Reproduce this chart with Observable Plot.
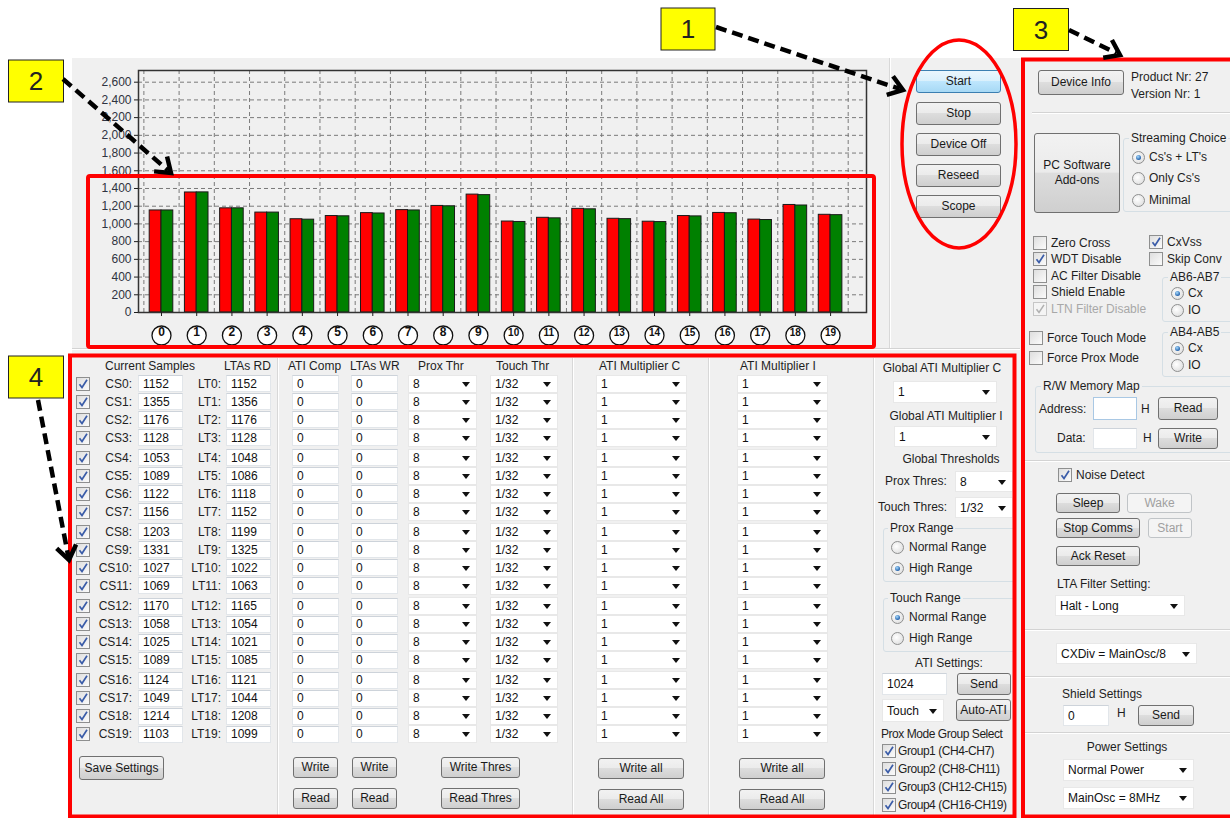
<!DOCTYPE html>
<html><head><meta charset="utf-8">
<script src="https://cdn.jsdelivr.net/npm/d3@7"></script>
<script src="https://cdn.jsdelivr.net/npm/@observablehq/plot@0.6"></script>
<style>
html,body{margin:0;padding:0;background:#fff;}
body{width:1230px;height:818px;position:relative;overflow:hidden;font-family:"Liberation Sans",Arial,sans-serif;font-size:12px;color:#1e1e1e;}
#win{position:absolute;left:72px;top:58px;width:1158px;height:760px;background:#f0f0f0;}
#chart{position:absolute;left:72px;top:58px;}
.a{position:absolute;box-sizing:border-box;}
.t{position:absolute;white-space:nowrap;line-height:16px;height:16px;}
.btn{border:1px solid #707070;border-radius:3px;background:linear-gradient(#f2f2f2 0%,#ebebeb 49%,#dddddd 50%,#cfcfcf 100%);display:flex;align-items:center;justify-content:center;text-align:center;color:#1a1a1a;line-height:15px;}
.btn.focus{border-color:#3c7fb1;background:linear-gradient(#eaf6fd 0%,#d9f0fc 49%,#bee6fd 50%,#a7d9f5 100%);}
.btn.dis{border-color:#c0c4c7;background:#f4f4f4;color:#a0a0a0;}
.inp{background:#fff;border:1px solid #e2e6ea;border-top-color:#cdd3da;padding-left:4px;display:flex;align-items:center;color:#111;}
.inp.focus{border-color:#a9c8e4;}
.cmb{background:#fff;border:1px solid #e8e8e8;padding-left:4px;display:flex;align-items:center;color:#111;}
.cmb:after{content:"";position:absolute;right:6px;top:50%;margin-top:-2px;border-left:4px solid transparent;border-right:4px solid transparent;border-top:5px solid #111;}
.cb{width:14px;height:14px;border:1px solid #8e8f8f;background:linear-gradient(135deg,#dedede,#fbfbfb);}
.cb svg{position:absolute;left:0;top:0;}
.cb.dis{border-color:#c6c6c6;background:#f4f4f4;}
.rd{width:13px;height:13px;border-radius:50%;border:1px solid #8e8f8f;background:radial-gradient(circle at 40% 40%,#ffffff,#d8d8d8);}
.rd.on:after{content:"";position:absolute;left:3px;top:3px;width:5px;height:5px;border-radius:50%;background:radial-gradient(circle at 40% 35%,#a8dcff,#1b5aa6 75%);}
.grp{border:1px solid #d5dfe5;border-radius:3px;}
.hl{height:2px;border-top:1px solid #d3d3d3;border-bottom:1px solid #ffffff;}
.vl{width:2px;border-left:1px solid #d8d8d8;border-right:1px solid #ffffff;}
.tb{background:#f0f0f0;padding:0 2px;}
.tight{letter-spacing:-0.45px;}
#ov{position:absolute;left:0;top:0;z-index:10;}
</style>
</head><body>
<div id="win"></div>
<div id="chart"></div>
<div id="ui"></div>
<script>
// ---------- data ----------
const channels = [0,1,2,3,4,5,6,7,8,9,10,11,12,13,14,15,16,17,18,19];
const cs = [1152,1355,1176,1128,1053,1089,1122,1156,1203,1331,1027,1069,1170,1058,1025,1089,1124,1049,1214,1103];
const lt = [1152,1356,1176,1128,1048,1086,1118,1152,1199,1325,1022,1063,1165,1054,1021,1085,1121,1044,1208,1099];
const yTicks = [0,200,400,600,800,1000,1200,1400,1600,1800,2000,2200,2400,2600];
const atiCompVal = "0", ltasWrVal = "0", proxThrVal = "8", touchThrVal = "1/32", atiMultVal = "1";

// ---------- chart ----------
const data = channels.map(i => ({ch: i, cs: cs[i], lt: lt[i]}));
const bounds = channels.map(i => i - 0.5).concat([channels.length - 0.5]);
const chart = Plot.plot({
  width: 818, height: 290,
  marginLeft: 66, marginTop: 12, marginRight: 24, marginBottom: 36,
  style: {background: "transparent", fontFamily: "Liberation Sans, Arial, sans-serif", fontSize: "12px"},
  x: {type: "linear", domain: [-0.653, 20.02]},
  y: {domain: [0, 2732]},
  marks: [
    Plot.gridY(yTicks.filter(v => v > 0), {stroke: "#7a7a7a", strokeOpacity: 1, strokeDasharray: "4,3"}),
    Plot.gridX(bounds, {stroke: "#7a7a7a", strokeOpacity: 1, strokeDasharray: "4,3"}),
    Plot.rectY(data, {x1: d => d.ch - 0.335, x2: d => d.ch, y: "cs", fill: "#ff0000", stroke: "#1a1a1a", strokeWidth: 1}),
    Plot.rectY(data, {x1: d => d.ch, x2: d => d.ch + 0.335, y: "lt", fill: "#008000", stroke: "#1a1a1a", strokeWidth: 1}),
    Plot.frame({stroke: "#333", strokeWidth: 1.5}),
    Plot.axisY({ticks: yTicks, tickSize: 4, tickPadding: 3, tickFormat: d3.format(","), label: null, fill: "#2f3340", fontSize: 12}),
    Plot.axisX({ticks: channels, tickSize: 4, tickFormat: () => "", label: null}),
    Plot.dot(channels, {x: d => d, frameAnchor: "bottom", dy: 23, r: 9.5, fill: "white", stroke: "#111", strokeWidth: 1.3}),
    Plot.text(channels, {x: d => d, frameAnchor: "bottom", dy: 23, text: d => String(d), fontWeight: "bold", fontSize: d => d < 10 ? 12 : 10, fill: "#111"})
  ]
});
document.getElementById("chart").appendChild(chart);

// ---------- GUI helpers ----------
const ui = document.getElementById("ui");
function add(cls, x, y, w, h, html, parent) {
  const d = document.createElement("div");
  d.className = "a " + cls;
  Object.assign(d.style, {left: x + "px", top: y + "px", width: w + "px", height: h + "px"});
  if (html != null) d.innerHTML = html;
  (parent || ui).appendChild(d);
  return d;
}
function txt(x, yc, s, align, parent, extra) {
  const d = document.createElement("div");
  d.className = "t" + (extra ? " " + extra : "");
  d.textContent = s;
  d.style.top = (yc - 8) + "px";
  if (align === "right") { d.style.left = (x - 400) + "px"; d.style.width = "400px"; d.style.textAlign = "right"; }
  else if (align === "center") { d.style.left = (x - 200) + "px"; d.style.width = "400px"; d.style.textAlign = "center"; }
  else d.style.left = x + "px";
  (parent || ui).appendChild(d);
  return d;
}
const CHECK = '<svg width="12" height="12"><path d="M2.5 6.2 L5 9.5 L10 1.8" fill="none" stroke="#3a5ca8" stroke-width="1.7"/></svg>';
const CHECKD = '<svg width="12" height="12"><path d="M2.5 6.2 L5 9.5 L10 1.8" fill="none" stroke="#b0b0b0" stroke-width="1.5"/></svg>';
function cbox(x, yc, on, label, lx, dis, parent, extra) {
  add("cb" + (dis ? " dis" : ""), x, yc - 7, 14, 14, on ? (dis ? CHECKD : CHECK) : "", parent);
  if (label) { const t = txt(lx, yc, label, "left", parent, extra); if (dis) t.style.color = "#a8a8a8"; }
}
function radio(cx, cy, on, label, lx, parent) {
  add("rd" + (on ? " on" : ""), cx - 6.5, cy - 6.5, 13, 13, "", parent);
  txt(lx, cy, label, "left", parent);
}
function btn(x, y, w, h, label, cls, parent) { return add("btn " + (cls || ""), x, y, w, h, label, parent); }
function inp(x, y, w, h, v, cls, parent) { return add("inp " + (cls || ""), x, y, w, h, v, parent); }
function cmb(x, y, w, h, v, parent) { return add("cmb", x, y, w, h, v, parent); }
function hl(x, y, w, parent) { add("hl", x, y, w, 2, "", parent); }
function vl(x, y, h, parent) { add("vl", x, y, 2, h, "", parent); }
function grp(x, y, w, h, title, tx, parent) { add("grp", x, y, w, h, "", parent); txt(tx, y, title, "left", parent, "tb"); }

// ---------- panel separators ----------
vl(889, 58, 290);
hl(72, 348, 948);
vl(277, 358, 460);
vl(572, 358, 460);
vl(708, 358, 460);
vl(873, 358, 460);

// ---------- group 1 buttons ----------
btn(916, 70, 85, 23, "Start", "focus");
btn(916, 102, 85, 23, "Stop");
btn(916, 133, 85, 23, "Device Off");
btn(916, 164, 85, 23, "Reseed");
btn(916, 195, 85, 23, "Scope");

// ---------- group 4 table ----------
const headers = [["Current Samples", 105], ["LTAs RD", 224], ["ATI Comp", 288], ["LTAs WR", 350], ["Prox Thr", 418], ["Touch Thr", 496], ["ATI Multiplier C", 599], ["ATI Multiplier I", 740]];
headers.forEach(([s, x]) => txt(x, 366, s));
channels.forEach(i => {
  const y = 383.5 + Math.floor(i / 4) * 74.2 + (i % 4) * 18;
  cbox(76, y, true);
  txt(132, y, "CS" + i + ":", "right");
  inp(138, y - 8.5, 45, 17, cs[i]);
  txt(221, y, "LT" + i + ":", "right");
  inp(226, y - 8.5, 45, 17, lt[i]);
  inp(292, y - 8.5, 47, 17, atiCompVal);
  inp(351, y - 8.5, 47, 17, ltasWrVal);
  cmb(408, y - 9, 69, 18, proxThrVal);
  cmb(490, y - 9, 68, 18, touchThrVal);
  cmb(596, y - 9, 91, 18, atiMultVal);
  cmb(737, y - 9, 91, 18, atiMultVal);
});
btn(79, 756, 85, 24, "Save Settings");
btn(293, 757, 45, 21, "Write");
btn(293, 788, 45, 21, "Read");
btn(352, 757, 45, 21, "Write");
btn(352, 788, 45, 21, "Read");
btn(441, 757, 79, 21, "Write Thres");
btn(441, 788, 79, 21, "Read Thres");
btn(598, 758, 86, 21, "Write all");
btn(598, 789, 86, 21, "Read All");
btn(739, 758, 86, 21, "Write all");
btn(739, 789, 86, 21, "Read All");

// global column (clipped at the panel edge)
const gc = document.createElement("div");
Object.assign(gc.style, {position: "absolute", left: "0px", top: "0px", width: "1013px", height: "818px", overflow: "hidden"});
ui.appendChild(gc);
txt(942, 368, "Global ATI Multiplier C", "center", gc);
cmb(893, 381, 104, 22, atiMultVal, gc);
txt(946, 416, "Global ATI Multiplier I", "center", gc);
cmb(894, 426, 103, 21, atiMultVal, gc);
txt(951, 459, "Global Thresholds", "center", gc);
txt(885, 481, "Prox Thres:", "left", gc);
cmb(955, 471, 58, 21, proxThrVal, gc);
txt(878, 507, "Touch Thres:", "left", gc);
cmb(955, 497, 58, 21, touchThrVal, gc);
grp(883, 528, 140, 54, "Prox Range", 888, gc);
radio(897, 547, false, "Normal Range", 909, gc);
radio(897, 568, true, "High Range", 909, gc);
grp(883, 598, 140, 54, "Touch Range", 888, gc);
radio(897, 617, true, "Normal Range", 909, gc);
radio(897, 638, false, "High Range", 909, gc);
txt(949, 663, "ATI Settings:", "center", gc);
inp(882, 673, 65, 22, "1024", "", gc);
btn(957, 673, 54, 22, "Send", "", gc);
cmb(882, 699, 62, 23, "Touch", gc);
btn(956, 699, 55, 22, "Auto-ATI", "", gc);
txt(881, 734, "Prox Mode Group Select", "left", gc, "tight");
[["Group1 (CH4-CH7)", 751], ["Group2 (CH8-CH11)", 769], ["Group3 (CH12-CH15)", 787], ["Group4 (CH16-CH19)", 805]].forEach(([s, y]) => cbox(882, y, true, s, 898, false, gc, "tight"));

// ---------- group 3 right panel ----------
btn(1038, 70, 86, 25, "Device Info");
txt(1131, 77, "Product Nr: 27");
txt(1131, 94, "Version Nr: 1");
hl(1032, 112, 200);
btn(1034, 133, 86, 80, "PC Software<br>Add-ons");
grp(1123, 138, 120, 74, "Streaming Choice", 1129);
radio(1138, 157, true, "Cs's + LT's", 1149);
radio(1138, 178, false, "Only Cs's", 1149);
radio(1138, 200, false, "Minimal", 1149);
cbox(1033, 243, false, "Zero Cross", 1051);
cbox(1033, 259, true, "WDT Disable", 1051);
cbox(1033, 276, false, "AC Filter Disable", 1051);
cbox(1033, 292, false, "Shield Enable", 1051);
cbox(1033, 309, true, "LTN Filter Disable", 1051, true);
cbox(1149, 242, true, "CxVss", 1167);
cbox(1149, 259, false, "Skip Conv", 1167);
grp(1162, 277, 80, 45, "AB6-AB7", 1168);
radio(1177, 293, true, "Cx", 1188);
radio(1177, 310, false, "IO", 1188);
cbox(1029, 338, false, "Force Touch Mode", 1047);
cbox(1029, 358, false, "Force Prox Mode", 1047);
grp(1162, 332, 80, 45, "AB4-AB5", 1168);
radio(1177, 348, true, "Cx", 1188);
radio(1177, 365, false, "IO", 1188);
grp(1035, 386, 210, 67, "R/W Memory Map", 1041);
txt(1039, 409, "Address:");
inp(1093, 397, 44, 23, "", "focus");
txt(1141, 409, "H");
btn(1158, 397, 60, 23, "Read");
txt(1057, 438, "Data:");
inp(1093, 428, 44, 21, "");
txt(1143, 438, "H");
btn(1158, 428, 60, 21, "Write");
hl(1025, 460, 210);
cbox(1058, 475, true, "Noise Detect", 1076);
btn(1056, 493, 64, 20, "Sleep");
btn(1127, 493, 65, 20, "Wake", "dis");
btn(1056, 518, 84, 20, "Stop Comms");
btn(1148, 518, 44, 20, "Start", "dis");
btn(1056, 546, 84, 20, "Ack Reset");
txt(1057, 584, "LTA Filter Setting:");
cmb(1055, 595, 130, 21, "Halt - Long");
hl(1025, 629, 210);
cmb(1056, 643, 141, 21, "CXDiv = MainOsc/8");
hl(1025, 676, 210);
txt(1062, 694, "Shield Settings");
inp(1063, 705, 46, 21, "0");
txt(1117, 713, "H");
btn(1138, 705, 56, 21, "Send");
hl(1025, 732, 210);
txt(1127, 747, "Power Settings", "center");
cmb(1063, 759, 131, 22, "Normal Power");
cmb(1063, 787, 131, 22, "MainOsc = 8MHz");

// ---------- annotation overlay ----------
function arrow(x1, y1, x2, y2) {
  const a = Math.atan2(y2 - y1, x2 - x1), L = 17, s = 0.62;
  const p1 = [x2 - L * Math.cos(a - s), y2 - L * Math.sin(a - s)];
  const p2 = [x2 - L * Math.cos(a + s), y2 - L * Math.sin(a + s)];
  const ex = x2 - 4 * Math.cos(a), ey = y2 - 4 * Math.sin(a);
  return `<line x1="${x1}" y1="${y1}" x2="${ex}" y2="${ey}" stroke="#000" stroke-width="4.5" stroke-dasharray="11,6"/>` +
    `<polyline points="${p1[0]},${p1[1]} ${x2},${y2} ${p2[0]},${p2[1]}" fill="none" stroke="#000" stroke-width="4.5" stroke-linejoin="miter"/>`;
}
function ybox(x, y, w, h, s) {
  return `<rect x="${x}" y="${y}" width="${w}" height="${h}" fill="#ffff00" stroke="#222" stroke-width="1"/>` +
    `<text x="${x + w / 2}" y="${y + h / 2 + 9}" text-anchor="middle" font-family="Liberation Sans, Arial, sans-serif" font-size="26" fill="#222">${s}</text>`;
}
const ov = `<svg id="ov" width="1230" height="818">
<rect x="88" y="176" width="786" height="171" rx="2" fill="none" stroke="#ff0000" stroke-width="4"/>
<rect x="70" y="355.5" width="944.5" height="461" fill="none" stroke="#ff0000" stroke-width="4"/>
<rect x="1023" y="59.5" width="230" height="757" fill="none" stroke="#ff0000" stroke-width="4"/>
<ellipse cx="959" cy="144" rx="57" ry="104" fill="none" stroke="#ff0000" stroke-width="3.5"/>
${ybox(661, 8, 54, 42, "1")}
${ybox(8.5, 60, 55, 42, "2")}
${ybox(1013.5, 8.5, 55, 42, "3")}
${ybox(8.5, 356, 55, 42, "4")}
${arrow(716, 27, 903, 90)}
${arrow(63, 79, 171, 173)}
${arrow(1069, 30, 1120, 55)}
${arrow(38, 400, 69, 560)}
</svg>`;
document.body.insertAdjacentHTML("beforeend", ov);
</script>
</body></html>
